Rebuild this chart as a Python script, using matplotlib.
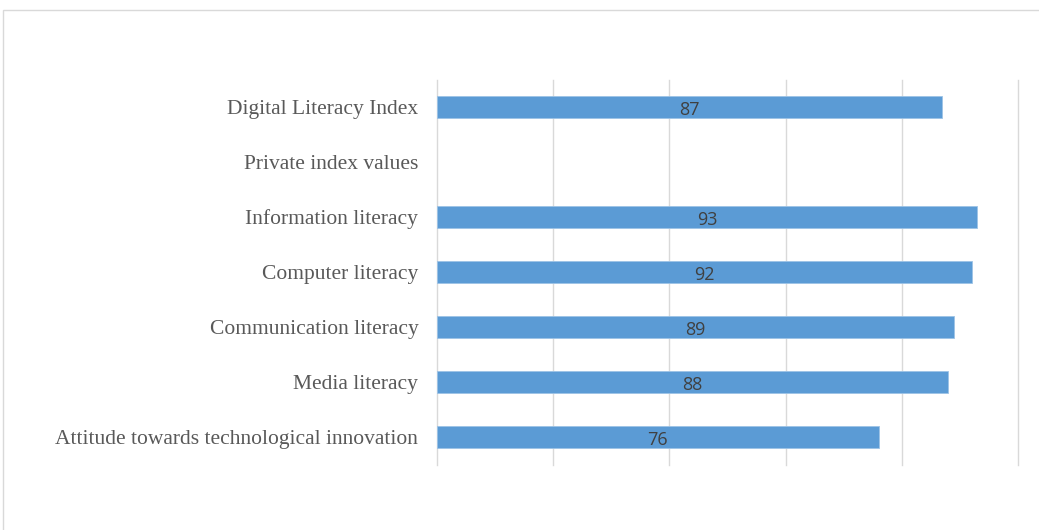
import matplotlib
matplotlib.use("Agg")
import matplotlib.pyplot as plt
import numpy as np
from matplotlib.patches import Rectangle

categories = ["Digital Literacy Index", "Private index values", "Information literacy",
              "Computer literacy", "Communication literacy", "Media literacy",
              "Attitude towards technological innovation"]
values = [87, None, 93, 92, 89, 88, 76]
xticks = [0, 20, 40, 60, 80, 100]

W, H = 1039, 530
fig = plt.figure(figsize=(W/100, H/100), dpi=100)
ax = fig.add_axes([437/W, 1-464.5/H, (1018-437)/W, (464.5-79.5)/H])

y = np.arange(len(categories))
for i, v in enumerate(values):
    if v is None:
        continue
    ax.barh(y[i], v, height=0.4, color="#5B9BD5", edgecolor="#9DC3E6", linewidth=0.6, zorder=3)
    ax.text(v/2, y[i] + 0.06, str(v), ha="center", va="center", fontsize=13,
            color="#404040", family="Open Sans", zorder=4)

ax.set_xlim(0, 100)
ax.set_ylim(len(categories)-0.5, -0.5)
ax.set_xticks(xticks)
ax.set_xticklabels([])
ax.tick_params(axis="x", length=0)
ax.set_yticks(y)
ax.set_yticklabels(categories, fontsize=15.5, color="#595959", family="Liberation Serif")
ax.tick_params(axis="y", length=0, pad=13.5)
ax.grid(axis="x", color="#D9D9D9", linewidth=1, zorder=0)
for gl in ax.get_xgridlines():
    gl.set_clip_on(False)
for s in ax.spines.values():
    s.set_visible(False)

fig.patches.append(Rectangle((3/W, -0.1), 1.1, 1.1-10/H, transform=fig.transFigure,
                             fill=False, edgecolor="#D9D9D9", linewidth=1))

fig.savefig("out.png", dpi=100)
